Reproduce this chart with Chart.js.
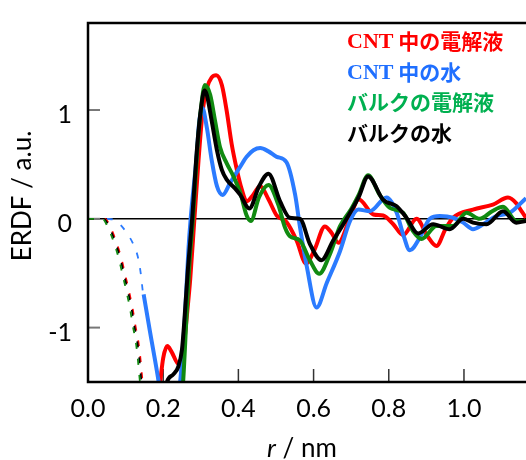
<!DOCTYPE html>
<html>
<head>
<meta charset="utf-8">
<script src="https://cdn.jsdelivr.net/npm/chart.js@4.4.1/dist/chart.umd.min.js"></script>
<style>
  html, body { margin: 0; padding: 0; background: #fff; }
  #wrap { width: 526px; height: 460px; }
</style>
</head>
<body>
<div id="wrap"><canvas id="erdf" width="526" height="460"></canvas></div>
<script>
// ERDF curves, r in nm. solid part + dashed short-range part per series
var redSolid = [[0.175,-2.0],[0.192,-1.5],[0.2,-1.28],[0.211,-1.17],[0.222,-1.22],[0.241,-1.335],[0.254,-1.19],[0.263,-0.89],[0.272,-0.55],[0.283,0],[0.294,0.54],[0.305,0.99],[0.316,1.2],[0.329,1.3],[0.341,1.32],[0.356,1.23],[0.369,0.99],[0.382,0.69],[0.396,0.45],[0.409,0.27],[0.422,0.16],[0.437,0.21],[0.458,0.3],[0.48,0.18],[0.502,0.03],[0.528,-0.03],[0.555,-0.2],[0.58,-0.41],[0.603,-0.28],[0.63,-0.07],[0.648,-0.13],[0.666,-0.22],[0.697,0.01],[0.72,0.18],[0.759,0.04],[0.785,0.03],[0.812,-0.05],[0.838,-0.15],[0.874,0.0],[0.903,-0.16],[0.927,-0.25],[0.95,-0.1],[0.971,0.01],[1.024,0.085],[1.077,0.13],[1.117,0.196],[1.14,0.14],[1.153,0.07],[1.165,0.01]];
var redDash = [[0,0],[0.045,0],[0.06,-0.08],[0.077,-0.23],[0.09,-0.38],[0.099,-0.515],[0.11,-0.68],[0.119,-0.83],[0.126,-0.98],[0.134,-1.13],[0.139,-1.27],[0.143,-1.42],[0.148,-1.6]];

var blueSolid = [[0.148,-0.695],[0.165,-1.04],[0.188,-1.5],[0.2,-1.8],[0.216,-1.9],[0.245,-1.5],[0.258,-0.89],[0.267,-0.29],[0.273,0],[0.288,0.54],[0.296,0.9],[0.304,1.02],[0.316,0.84],[0.329,0.54],[0.343,0.3],[0.358,0.22],[0.378,0.33],[0.405,0.48],[0.422,0.57],[0.44,0.63],[0.458,0.65],[0.48,0.62],[0.502,0.57],[0.528,0.52],[0.551,0.22],[0.564,-0.08],[0.582,-0.44],[0.608,-0.815],[0.635,-0.59],[0.67,-0.3],[0.697,-0.02],[0.719,0.085],[0.75,0.07],[0.794,0.196],[0.821,0.055],[0.838,-0.14],[0.856,-0.29],[0.883,-0.17],[0.909,0.0],[0.936,0.025],[0.971,0.01],[0.998,-0.035],[1.024,-0.095],[1.051,-0.05],[1.086,0.025],[1.122,0.055],[1.165,0.19]];
var blueDash = [[0.05,0],[0.07,-0.01],[0.09,-0.07],[0.105,-0.14],[0.12,-0.23],[0.134,-0.37],[0.141,-0.52],[0.146,-0.67],[0.148,-0.695]];

var greenSolid = [[0.24,-2.0],[0.253,-1.5],[0.262,-0.9],[0.27,-0.4],[0.279,0],[0.29,0.6],[0.3,1.0],[0.311,1.23],[0.325,1.14],[0.338,0.9],[0.351,0.66],[0.369,0.51],[0.387,0.39],[0.405,0.24],[0.422,0.03],[0.433,-0.02],[0.455,0.2],[0.48,0.31],[0.506,0.13],[0.524,-0.08],[0.537,-0.16],[0.564,-0.2],[0.59,-0.38],[0.615,-0.505],[0.644,-0.32],[0.67,-0.07],[0.7,0.09],[0.72,0.22],[0.745,0.4],[0.776,0.22],[0.803,0.1],[0.838,0.055],[0.862,-0.1],[0.887,-0.185],[0.927,-0.065],[0.971,-0.065],[1.007,0.055],[1.042,0.0],[1.075,0.07],[1.104,0.11],[1.139,-0.02],[1.165,-0.02]];
var greenDash = [[0,0],[0.038,0],[0.053,-0.08],[0.07,-0.23],[0.083,-0.38],[0.092,-0.515],[0.103,-0.68],[0.112,-0.83],[0.119,-0.98],[0.127,-1.13],[0.132,-1.27],[0.136,-1.42],[0.141,-1.6]];

var blackSolid = [[0.2,-1.7],[0.21,-1.5],[0.227,-1.43],[0.24,-1.36],[0.25,-1.2],[0.256,-0.95],[0.266,-0.45],[0.277,0],[0.29,0.65],[0.3,1.0],[0.31,1.18],[0.316,1.14],[0.329,0.9],[0.343,0.63],[0.356,0.45],[0.369,0.36],[0.391,0.28],[0.405,0.22],[0.429,0.095],[0.455,0.3],[0.48,0.415],[0.511,0.16],[0.537,0.01],[0.564,0.0],[0.59,-0.23],[0.621,-0.38],[0.652,-0.2],[0.679,-0.05],[0.72,0.2],[0.745,0.39],[0.785,0.175],[0.821,0.115],[0.847,0.01],[0.878,-0.135],[0.918,-0.05],[0.962,-0.095],[0.998,0.0],[1.024,-0.035],[1.06,-0.05],[1.104,0.07],[1.139,-0.035],[1.165,-0.02]];
var blackDash = [[0,0],[0.042,0],[0.057,-0.08],[0.074,-0.23],[0.087,-0.38],[0.096,-0.515],[0.107,-0.68],[0.116,-0.83],[0.123,-0.98],[0.131,-1.13],[0.136,-1.27],[0.14,-1.42],[0.145,-1.6]];

var xTicks = [0.2, 0.4, 0.6, 0.8, 1.0];
var yTicks = [-1, 0, 1];

var legendRows = [
  { latin: 'CNT', jp: ' 中の電解液', color: '#ff0000' },
  { latin: 'CNT', jp: ' 中の水', color: '#1f6fff' },
  { latin: '', jp: 'バルクの電解液', color: '#00b050' },
  { latin: '', jp: 'バルクの水', color: '#000000' }
];

var RED = '#ff0000', BLUE = '#2b7bff', GREEN = '#118a11', BLACK = '#000000';

function pts(arr) {
  return arr.map(function (p) { return { x: p[0], y: p[1] }; });
}
function solid(data, color) {
  return { data: pts(data), borderColor: color, borderWidth: 4, pointRadius: 0, cubicInterpolationMode: 'monotone', fill: false };
}
function dashed(data, color) {
  return { data: pts(data), borderColor: color, borderWidth: 1.8, borderDash: [6, 10], pointRadius: 0, cubicInterpolationMode: 'monotone', fill: false };
}

var framePlugin = {
  id: 'frame',
  beforeDatasetsDraw: function (chart) {
    var c = chart.ctx, a = chart.chartArea, xs = chart.scales.x, ys = chart.scales.y;
    c.save();
    // zero line
    c.strokeStyle = '#000';
    c.lineWidth = 1.5;
    c.beginPath();
    c.moveTo(a.left, ys.getPixelForValue(0));
    c.lineTo(a.right, ys.getPixelForValue(0));
    c.stroke();
    // inward tick marks
    c.strokeStyle = '#777';
    c.lineWidth = 2;
    yTicks.forEach(function (v) {
      var y = ys.getPixelForValue(v);
      c.beginPath(); c.moveTo(a.left, y); c.lineTo(a.left + 12, y); c.stroke();
    });
    c.strokeStyle = '#333';
    c.lineWidth = 1.5;
    xTicks.forEach(function (v) {
      var x = xs.getPixelForValue(v);
      c.beginPath(); c.moveTo(x, a.bottom); c.lineTo(x, a.bottom - 13); c.stroke();
    });
    c.restore();
  },
  afterDraw: function (chart) {
    var c = chart.ctx, a = chart.chartArea;
    c.save();
    // frame: left, top, bottom
    c.strokeStyle = '#000';
    c.lineWidth = 2.5;
    c.beginPath();
    c.moveTo(a.right, a.top);
    c.lineTo(a.left, a.top);
    c.lineTo(a.left, a.bottom);
    c.lineTo(a.right, a.bottom);
    c.stroke();

    // axis titles
    c.fillStyle = '#000';
    c.textBaseline = 'middle';
    c.textAlign = 'center';
    c.save();
    c.translate(23, 196);
    c.rotate(-Math.PI / 2);
    c.font = '26px Lato';
    c.fillText('ERDF / a.u.', 0, 0);
    c.restore();

    c.textAlign = 'left';
    c.textBaseline = 'alphabetic';
    c.font = 'italic 26px Lato';
    var rw = c.measureText('r').width;
    c.font = '26px Lato';
    var rest = ' / nm';
    var tw = rw + c.measureText(rest).width;
    var x0 = 302 - tw / 2;
    c.font = 'italic 26px Lato';
    c.fillText('r', x0, 457);
    c.font = '26px Lato';
    c.fillText(rest, x0 + rw, 457);

    // legend text
    var base = [48, 78.5, 109, 139.5];
    legendRows.forEach(function (row, i) {
      var x = 347;
      c.fillStyle = row.color;
      if (row.latin) {
        c.font = 'bold 22px "Liberation Serif"';
        c.fillText(row.latin, x, base[i]);
        x += c.measureText(row.latin).width;
      }
      c.font = 'bold 21px "Noto Sans CJK JP"';
      c.fillText(row.jp, x, base[i] + 1);
    });
    c.restore();
  }
};

new Chart(document.getElementById('erdf'), {
  type: 'line',
  data: {
    datasets: [
      dashed(greenDash, GREEN), dashed(blackDash, BLACK), dashed(redDash, RED), dashed(blueDash, BLUE),
      solid(blackSolid, BLACK), solid(greenSolid, GREEN), solid(blueSolid, BLUE), solid(redSolid, RED)
    ]
  },
  options: {
    responsive: false,
    animation: false,
    devicePixelRatio: 1,
    layout: { padding: { top: 14, right: 0, left: 0, bottom: 0 } },
    plugins: { legend: { display: false }, tooltip: { enabled: false } },
    scales: {
      x: {
        type: 'linear',
        min: 0,
        max: 1.165,
        grid: { display: false },
        border: { display: false },
        ticks: {
          stepSize: 0.2,
          includeBounds: false,
          padding: 4,
          color: '#000',
          font: { family: 'Lato', size: 25 },
          callback: function (v) { return v.toFixed(1); }
        },
        afterFit: function (s) { s.height = 78; }
      },
      y: {
        type: 'linear',
        min: -1.5,
        max: 1.8,
        grid: { display: false },
        border: { display: false },
        ticks: {
          stepSize: 1,
          includeBounds: false,
          padding: 8,
          labelOffset: 5,
          color: '#000',
          font: { family: 'Lato', size: 25 }
        },
        afterFit: function (s) { s.width = 88; }
      }
    }
  },
  plugins: [framePlugin]
});
</script>
</body>
</html>
